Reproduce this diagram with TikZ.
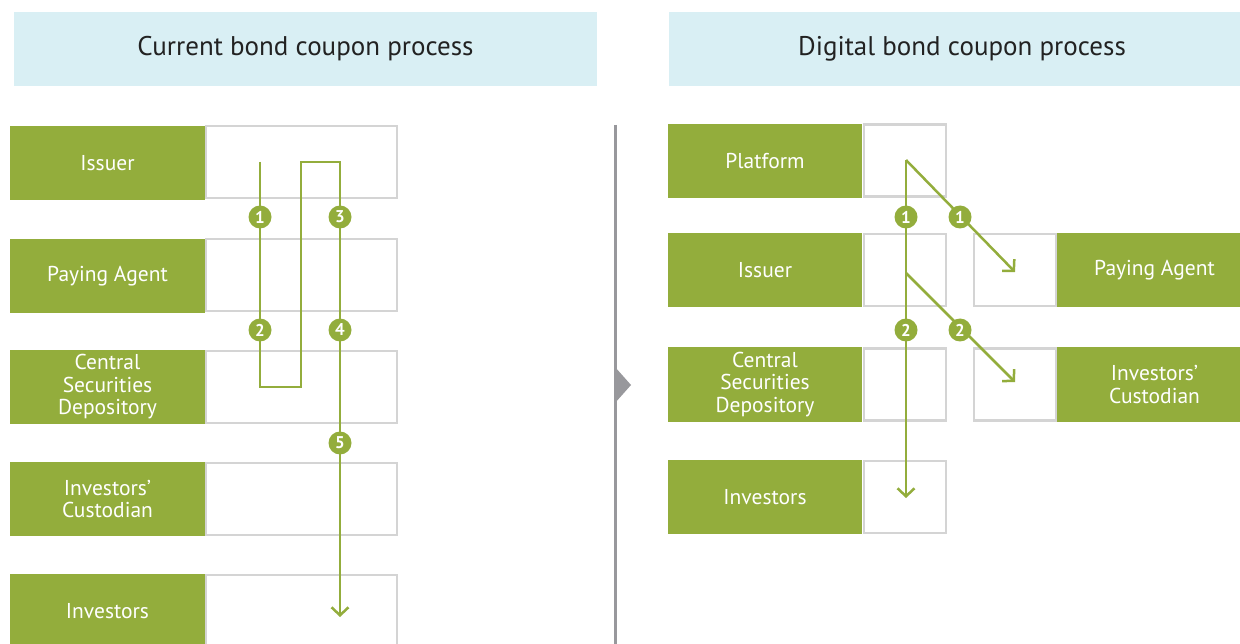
\documentclass[tikz,border=0pt]{standalone}
\usepackage{fontspec}
\setmainfont{PT Sans}
\usetikzlibrary{arrows.meta,positioning}

\definecolor{bondgreen}{HTML}{93AD3C}
\definecolor{headblue}{HTML}{D9EFF4}
\definecolor{slotgray}{HTML}{D4D4D4}
\definecolor{divgray}{HTML}{98989C}
\definecolor{headtext}{HTML}{222222}

\tikzset{
  header/.style={fill=headblue, text=headtext, minimum height=74pt, inner sep=0pt, font=\fontsize{27}{30}\selectfont},
  party/.style={fill=bondgreen, text=white, minimum width=195pt, minimum height=74pt, inner sep=0pt, align=center, font=\fontsize{21.5}{22.5}\selectfont},
  slot/.style={draw=slotgray, line width=2.5pt, fill=white, minimum height=72pt, inner sep=0pt},
  flow/.style={draw=bondgreen, line width=2.5pt},
  tip/.style={-{Straight Barb[length=8pt,width=17pt,line width=2.5pt]}},
  num/.style={circle, fill=bondgreen, text=white, minimum size=23pt, inner sep=0pt, font=\fontsize{17}{17}\bfseries\selectfont}
}

\begin{document}
\begin{tikzpicture}[x=1pt,y=-1pt]
		\clip (0,0) rectangle (1240,644);
		\useasboundingbox (0,0) rectangle (1240,644);
		% headers
		\node[header, minimum width=583pt] (curhead) at (305.5,49) {Current bond coupon process};
		\node[header, minimum width=586pt] (dighead) at (962,49) {Digital bond coupon process};
		% current process
		\node[party] (issuerL) at (107.5,163) {Issuer};
		\node[party] (agentL) at (107.5,276) {Paying Agent};
		\node[party] (csdL) at (107.5,387) {Central\\Securities\\Depository};
		\node[party] (custL) at (107.5,499) {Investors’\\Custodian};
		\node[party] (invL) at (107.5,611) {Investors};
		\node[slot, minimum width=191pt] (issuerLs) at (301.5,162) { };
		\node[slot, minimum width=191pt] (agentLs) at (301.5,275) { };
		\node[slot, minimum width=191pt] (csdLs) at (301.5,387) { };
		\node[slot, minimum width=191pt] (custLs) at (301.5,499) { };
		\node[slot, minimum width=191pt] (invLs) at (301.5,611) { };
		\coordinate (a0) at (260,162);
		\coordinate (a1) at (260,387);
		\coordinate (a2) at (301,387);
		\coordinate (a3) at (301,162);
		\coordinate (a4) at (340,162);
		\coordinate (a5) at (340,617);
		\draw[flow, tip] (a0) -- (a1) -- (a2) -- (a3) -- (a4) -- (a5);
		\node[num] (n1) at (260,217) {1};
		\node[num] (n2) at (260,330) {2};
		\node[num] (n3) at (340,217) {3};
		\node[num] (n4) at (340,330) {4};
		\node[num] (n5) at (340,443) {5};
		% divider
		\coordinate (d0) at (615,125);
		\coordinate (d1) at (615,644);
		\draw[divgray, line width=3pt] (d0) -- (d1);
		\fill[divgray] (615,367) -- (631,385) -- (615,403) -- cycle;
		% digital process
		\node[party, minimum width=194pt] (platR) at (765,161) {Platform};
		\node[party, minimum width=194pt] (issuerR) at (765,270) {Issuer};
		\node[party, minimum width=194pt] (csdR) at (765,384.5) {Central\\Securities\\Depository};
		\node[party, minimum width=194pt] (invR) at (765,497) {Investors};
		\node[slot, minimum width=82pt] (platRs) at (905,160.5) { };
		\node[slot, minimum width=82pt] (issuerRs) at (905,270) { };
		\node[slot, minimum width=82pt] (csdRs) at (905,384.5) { };
		\node[slot, minimum width=82pt] (invRs) at (905,497) { };
		\node[slot, minimum width=82pt] (agentRs) at (1015,270) { };
		\node[slot, minimum width=82pt] (custRs) at (1015,384.5) { };
		\node[party] (agentR) at (1154.5,270) {Paying Agent};
		\node[party] (custR) at (1154.5,384.5) {Investors’\\Custodian};
		\coordinate (b0) at (906,160);
		\coordinate (b1) at (906,498);
		\coordinate (b2) at (906,273);
		\coordinate (e1) at (1015,272);
		\coordinate (e2) at (1015,382);
		\draw[flow, tip] (b0) -- (b1);
		\draw[flow, tip] (b0) -- (e1);
		\draw[flow, tip] (b2) -- (e2);
		\node[num] (m1) at (906,217) {1};
		\node[num] (m2) at (906,330) {2};
		\node[num] (k1) at (960,217) {1};
		\node[num] (k2) at (960,330) {2};
\end{tikzpicture}
\end{document}
